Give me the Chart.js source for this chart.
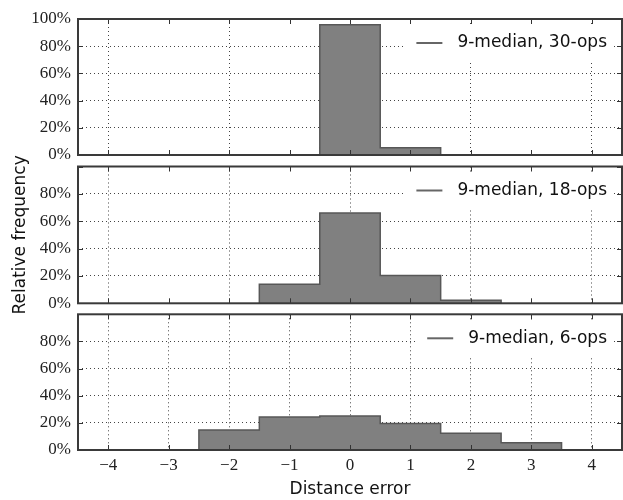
<!DOCTYPE html>
<html>
<head>
<meta charset="utf-8">
<script src="https://cdn.jsdelivr.net/npm/chart.js@4.4.0/dist/chart.umd.min.js"></script>
<style>
body { margin: 0; background: #fff; }
#wrap { position: relative; width: 623px; height: 500px; }
canvas { position: absolute; left: 0; top: 0; }
</style>
</head>
<body>
<div id="wrap">
<canvas id="c1" width="623" height="500"></canvas>
<canvas id="c2" width="623" height="500"></canvas>
<canvas id="c3" width="623" height="500"></canvas>
</div>
<script>
// histogram bins (centre of each bin) and relative frequency in %
var binCenters30 = [0, 1];
var freq30 = [95.8, 5.4];
var binCenters18 = [-1, 0, 1, 2];
var freq18 = [13.9, 66.0, 20.4, 2.2];
var binCenters6 = [-2, -1, 0, 1, 2, 3];
var freq6 = [14.8, 24.4, 25.0, 19.6, 12.4, 5.4];

var seriesNames = ['9-median, 30-ops', '9-median, 18-ops', '9-median, 6-ops'];
var xTicks = [-4, -3, -2, -1, 0, 1, 2, 3, 4];
var yTicks = [0, 20, 40, 60, 80, 100];
var xLabel = 'Distance error';
var yLabel = 'Relative frequency';

// outline of a step-filled histogram, built from the bin centres
function stepPoints(centers, values){
    var pts = [{x: centers[0] - 0.5, y: 0}];
    for (var i = 0; i < centers.length; i++) {
        pts.push({x: centers[i] - 0.5, y: values[i]});
    }
    pts.push({x: centers[centers.length - 1] + 0.5, y: 0});
    return pts;
}

function fmtX(v){
    return v < 0 ? '\u2212' + Math.abs(v) : String(v);
}

var framePlugin = {
    id: 'frame',
    afterDraw: function(chart){
        var ctx = chart.ctx, a = chart.chartArea;
        var xs = chart.scales.x, ys = chart.scales.y;
        ctx.save();

        // legend with white background
        var text = chart.data.datasets[0].label;
        ctx.font = '17px "DejaVu Sans"';
        var tw = ctx.measureText(text).width;
        var cy = a.top + 24;
        var tx = a.right - 15 - tw;
        ctx.fillStyle = '#fff';
        ctx.fillRect(tx - 52, cy - 17, a.right - 10 - (tx - 52), 36);
        ctx.strokeStyle = '#666';
        ctx.lineWidth = 2;
        ctx.beginPath();
        ctx.moveTo(tx - 41, cy);
        ctx.lineTo(tx - 15, cy);
        ctx.stroke();
        ctx.fillStyle = '#111';
        ctx.textBaseline = 'middle';
        ctx.textAlign = 'left';
        ctx.fillText(text, tx, cy);

        // inward ticks on all four sides
        ctx.strokeStyle = '#333';
        ctx.lineWidth = 1;
        ctx.beginPath();
        xTicks.forEach(function(v){
            var px = Math.round(xs.getPixelForValue(v)) + 0.5;
            ctx.moveTo(px, a.top); ctx.lineTo(px, a.top + 5);
            ctx.moveTo(px, a.bottom); ctx.lineTo(px, a.bottom - 5);
        });
        yTicks.forEach(function(v){
            var py = Math.round(ys.getPixelForValue(v)) + 0.5;
            ctx.moveTo(a.left, py); ctx.lineTo(a.left + 5, py);
            ctx.moveTo(a.right, py); ctx.lineTo(a.right - 5, py);
        });
        ctx.stroke();

        ctx.strokeStyle = '#3a3a3a';
        ctx.lineWidth = 2;
        ctx.strokeRect(a.left, a.top, a.right - a.left, a.bottom - a.top);
        ctx.restore();
    }
};

function makeChart(id, centers, values, name, o){
    return new Chart(document.getElementById(id), {
        type: 'line',
        data: {
            datasets: [{
                label: name,
                data: stepPoints(centers, values),
                stepped: true,
                fill: 'origin',
                backgroundColor: '#808080',
                borderColor: '#575757',
                borderWidth: 1.5,
                pointRadius: 0
            }]
        },
        options: {
            responsive: false,
            animation: false,
            events: [],
            layout: {padding: {top: o.top, bottom: o.bottom, left: 0, right: 1}},
            plugins: {legend: {display: false}, tooltip: {enabled: false}},
            scales: {
                x: {
                    type: 'linear', min: -4.5, max: 4.5, z: 1,
                    afterBuildTicks: function(s){ s.ticks = xTicks.map(function(v){ return {value: v}; }); },
                    afterFit: function(s){ s.height = o.showX ? 50 : 0; },
                    grid: {
                        drawTicks: false, lineWidth: 1,
                        color: function(c){ return (o.allGrid || c.tick.value % 2 === 0) ? '#444' : 'rgba(0,0,0,0)'; }
                    },
                    border: {display: false, dash: [1, 3]},
                    ticks: {
                        display: o.showX, padding: 5, color: '#222',
                        font: {family: 'Liberation Serif', size: 17},
                        callback: function(v){ return fmtX(v); }
                    },
                    title: {
                        display: o.showX, text: xLabel, color: '#111', padding: 0,
                        font: {family: 'DejaVu Sans', size: 17}
                    }
                },
                y: {
                    min: 0, max: 100, z: 1,
                    afterBuildTicks: function(s){ s.ticks = yTicks.map(function(v){ return {value: v}; }); },
                    afterFit: function(s){ s.width = 78; },
                    grid: {drawTicks: false, lineWidth: 1, color: '#444'},
                    border: {display: false, dash: [1, 3]},
                    ticks: {
                        padding: 7, color: '#222',
                        font: {family: 'Liberation Serif', size: 17},
                        callback: function(v){ return (v === 100 && !o.show100) ? '' : v + '%'; }
                    },
                    title: {
                        display: o.showY, text: yLabel, color: '#111', padding: {top: 10, bottom: 0},
                        font: {family: 'DejaVu Sans', size: 17}
                    }
                }
            }
        },
        plugins: [framePlugin]
    });
}

makeChart('c1', binCenters30, freq30, seriesNames[0], {top: 19, bottom: 345, showX: false, showY: false, show100: true, allGrid: false});
makeChart('c2', binCenters18, freq18, seriesNames[1], {top: 166.5, bottom: 196.7, showX: false, showY: true, show100: false, allGrid: false});
makeChart('c3', binCenters6, freq6, seriesNames[2], {top: 314.3, bottom: 0, showX: true, showY: false, show100: false, allGrid: true});
</script>
</body>
</html>
